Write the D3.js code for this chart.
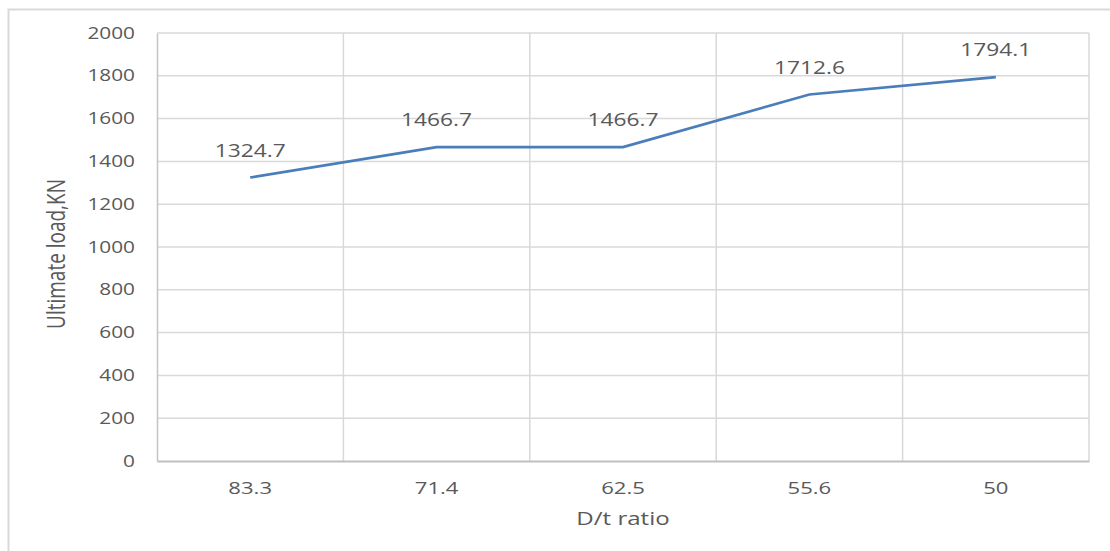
<!DOCTYPE html>
<html lang="en">
<head>
<meta charset="utf-8">
<title>Ultimate load vs D/t ratio</title>
<script src="https://cdn.jsdelivr.net/npm/d3@7"></script>
<style>
  body { margin: 0; background: #fff; }
  svg { display: block; }
  text { font-family: "Open Sans", sans-serif; fill: #595959; }
</style>
</head>
<body>
<script>
// data
const ratios = ["83.3", "71.4", "62.5", "55.6", "50"];
const loads = [1324.7, 1466.7, 1466.7, 1712.6, 1794.1];
const yTicks = [0, 200, 400, 600, 800, 1000, 1200, 1400, 1600, 1800, 2000];

const w = 1110, h = 551;
const plotLeft = 157, plotRight = 1089, plotTop = 33, plotBottom = 461;
const sx = 1.3; // picture is stretched sideways

const svg = d3.select("body").append("svg")
  .attr("width", w)
  .attr("height", h);

// outer chart frame (cut off at right and bottom)
svg.append("path")
  .attr("d", `M8.5,${h} V9.5 H${w}`)
  .attr("fill", "none")
  .attr("stroke", "#d9d9d9")
  .attr("stroke-width", 2);

const x = d3.scaleBand().domain(ratios).range([plotLeft, plotRight]).padding(0);
const y = d3.scaleLinear().domain([0, 2000]).range([plotBottom, plotTop]);

// horizontal gridlines
svg.append("g")
  .selectAll("line")
  .data(yTicks.slice(1))
  .join("line")
  .attr("x1", plotLeft).attr("x2", plotRight)
  .attr("y1", d => y(d)).attr("y2", d => y(d))
  .attr("stroke", "#d9d9d9")
  .attr("stroke-width", 1.5);

// vertical gridlines at category edges
const edges = ratios.map(r => x(r) + x.bandwidth());
svg.append("g")
  .selectAll("line")
  .data(edges)
  .join("line")
  .attr("x1", d => d).attr("x2", d => d)
  .attr("y1", plotTop).attr("y2", plotBottom)
  .attr("stroke", "#d9d9d9")
  .attr("stroke-width", 1.5);

// y axis
const yAxis = svg.append("g")
  .attr("transform", `translate(${plotLeft},0)`)
  .call(d3.axisLeft(y).tickValues(yTicks).tickFormat(d3.format("d")).tickSize(0).tickPadding(0));
yAxis.select(".domain").attr("stroke", "#c4c4c4").attr("stroke-width", 1.5);
yAxis.selectAll("text")
  .attr("x", 0)
  .attr("transform", `translate(-22,0) scale(${sx},1)`)
  .style("font-size", "16px")
  .attr("fill", "#595959");

// x axis
const xAxis = svg.append("g")
  .attr("transform", `translate(0,${plotBottom})`)
  .call(d3.axisBottom(x).tickSize(0).tickPadding(0));
xAxis.select(".domain").attr("stroke", "#bfbfbf").attr("stroke-width", 2);
xAxis.selectAll("text")
  .attr("y", 0)
  .attr("dy", "0")
  .attr("transform", `translate(0,33) scale(${sx},1)`)
  .style("font-size", "17px")
  .attr("fill", "#595959");

// line
const cx = d => x(d) + x.bandwidth() / 2;
const line = d3.line()
  .x((d, i) => cx(ratios[i]))
  .y(d => y(d));

svg.append("path")
  .datum(loads)
  .attr("d", line)
  .attr("fill", "none")
  .attr("stroke", "#4a7ebb")
  .attr("stroke-width", 2.7);

// data labels
svg.append("g")
  .selectAll("text")
  .data(loads)
  .join("text")
  .attr("text-anchor", "middle")
  .attr("transform", (d, i) => `translate(${cx(ratios[i])},${y(d) - 21}) scale(${sx},1)`)
  .style("font-size", "17.5px")
  .text(d => d.toFixed(1));

// axis titles
svg.append("text")
  .attr("text-anchor", "middle")
  .attr("transform", `translate(${(plotLeft + plotRight) / 2},525) scale(${sx},1)`)
  .style("font-size", "18.5px")
  .text("D/t ratio");

svg.append("text")
  .attr("text-anchor", "middle")
  .attr("transform", `translate(65,${(plotTop + plotBottom) / 2 + 7}) rotate(-90) scale(1,${sx})`)
  .style("font-size", "19px")
  .text("Ultimate load,KN");
</script>
</body>
</html>
